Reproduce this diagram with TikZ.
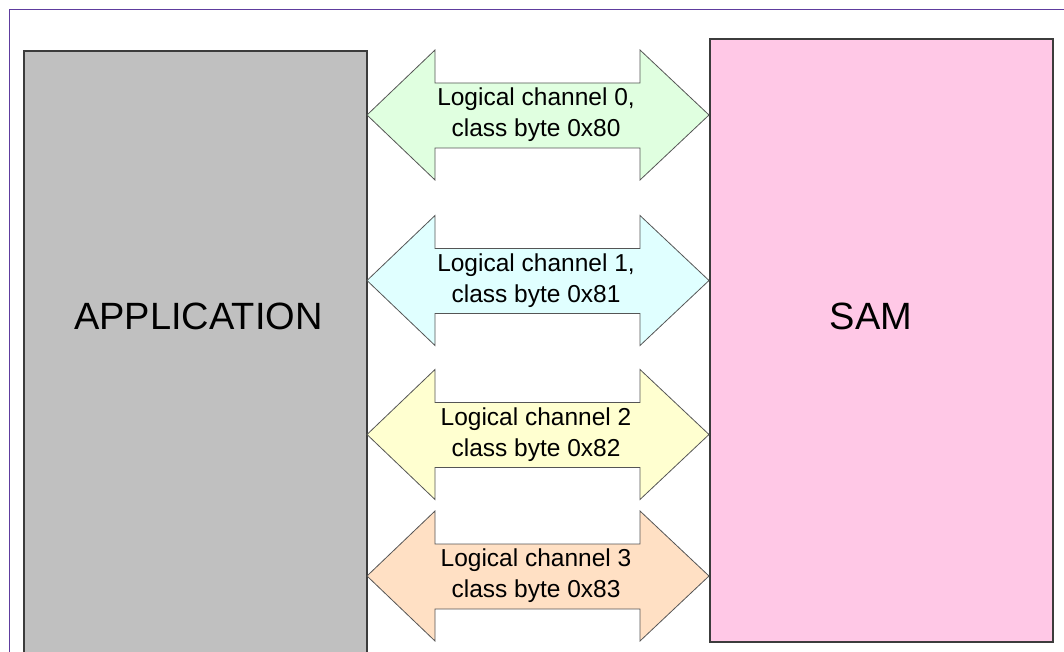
\documentclass[tikz,border=0pt]{standalone}
\usepackage{fontspec}
\setmainfont{Liberation Sans}
\definecolor{framecol}{HTML}{5E3C9E}
\definecolor{appgray}{HTML}{C0C0C0}
\definecolor{sampink}{HTML}{FFC8E6}
\definecolor{edgecol}{HTML}{3C3C3C}
\definecolor{arredge}{HTML}{555555}
\definecolor{chgreen}{HTML}{E0FFE0}
\definecolor{chcyan}{HTML}{E0FFFF}
\definecolor{chyellow}{HTML}{FFFFD0}
\definecolor{chpeach}{HTML}{FFE0C4}
\begin{document}
\begin{tikzpicture}[x=1pt,y=-1pt,
  frameline/.style={draw=framecol,line width=1.2pt},
  bigbox/.style={draw=edgecol,line width=1.6pt,rectangle,inner sep=0pt,anchor=north west},
  bigtext/.style={font=\fontsize{38}{44}\selectfont,text=black,inner sep=0pt},
  chtext/.style={font=\fontsize{24.5}{31}\selectfont,align=center,text=black,inner sep=0pt},
  charrow/.style={draw=arredge,line width=0.8pt,line join=miter}]
\useasboundingbox (0,0) rectangle (1064,652);
\draw[frameline] (1064,9.5) -- (9.5,9.5) -- (9.5,652);
% boxes
\node[bigbox,fill=appgray,minimum width=343pt,minimum height=700pt] (app) at (23,50) {};
\node[bigbox,fill=sampink,minimum width=343pt,minimum height=603pt] (sam) at (709,38) {};
\node[bigtext] (applabel) at (198.5,316) {APPLICATION};
\node[bigtext] (samlabel) at (871,316) {SAM};
% channel arrows
\foreach \c/\col/\la/\lb/\n in {115/chgreen/{Logical channel 0,}/{class byte 0x80}/0,
                               280.5/chcyan/{Logical channel 1,}/{class byte 0x81}/1,
                               434.5/chyellow/{Logical channel 2}/{class byte 0x82}/2,
                               576/chpeach/{Logical channel 3}/{class byte 0x83}/3}{
  \draw[charrow,fill=\col] (367,\c) -- (435,\c-65) -- (435,\c-32) -- (640,\c-32) -- (640,\c-65)
     -- (709,\c) -- (640,\c+65) -- (640,\c+33) -- (435,\c+33) -- (435,\c+65) -- cycle;
  \node[chtext] (ch\n) at (536,\c) {\la\\\lb};
}
\end{tikzpicture}
\end{document}
